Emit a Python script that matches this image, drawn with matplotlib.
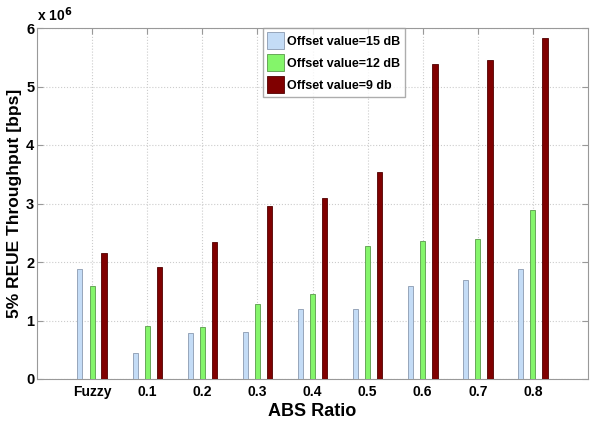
import numpy as np
import matplotlib
matplotlib.use("Agg")
import matplotlib.pyplot as plt

categories = ["Fuzzy", "0.1", "0.2", "0.3", "0.4", "0.5", "0.6", "0.7", "0.8"]
offset_15db = [1.88, 0.45, 0.78, 0.80, 1.20, 1.20, 1.59, 1.70, 1.88]
offset_12db = [1.59, 0.91, 0.89, 1.29, 1.46, 2.28, 2.36, 2.40, 2.89]
offset_9db = [2.15, 1.92, 2.34, 2.95, 3.09, 3.54, 5.39, 5.45, 5.83]
labels = ["Offset value=15 dB", "Offset value=12 dB", "Offset value=9 db"]

plt.rcParams['font.family'] = ['Liberation Sans', 'DejaVu Sans']
plt.rcParams['font.weight'] = 'bold'

fig = plt.figure(figsize=(5.92, 4.21), dpi=100)
ax = fig.add_axes([37 / 592, 1 - 379 / 421, 551 / 592, 351 / 421])

x = np.arange(1, len(categories) + 1)
w = 0.09
ax.bar(x - 0.22, offset_15db, w, color='#c4dcf6', edgecolor='#8a9ab0', linewidth=0.6, label=labels[0], zorder=3)
ax.bar(x, offset_12db, w, color='#84f56a', edgecolor='#5a9a4a', linewidth=0.6, label=labels[1], zorder=3)
ax.bar(x + 0.22, offset_9db, w + 0.01, color='#800000', edgecolor='#500000', linewidth=0.6, label=labels[2], zorder=3)

ax.set_xlim(0, 10)
ax.set_ylim(0, 6)
ax.set_xticks(x)
ax.set_xticklabels(categories, fontsize=10, fontweight='bold')
ax.set_yticks(range(7))
ax.set_yticklabels([str(i) for i in range(7)], fontsize=10.5, fontweight='bold')
ax.tick_params(direction='in', top=True, right=True, length=4, color='#999999', pad=4)
ax.tick_params(axis='y', pad=2)
ax.grid(True, linestyle=':', color='#cccccc', linewidth=0.8, zorder=0)
for s in ax.spines.values():
    s.set_color('#999999')

ax.set_xlabel("ABS Ratio", fontsize=13, fontweight='bold', labelpad=3)
ax.set_ylabel("5% REUE Throughput [bps]", fontsize=12.5, fontweight='bold')
ax.yaxis.set_label_coords(-0.027, 0.5)
ax.text(0.0, 1.01, r"x 10$^{6}$", transform=ax.transAxes, fontsize=10, ha='left', va='bottom')

leg = ax.legend(loc='upper left', bbox_to_anchor=(226 / 551, 1.0), fontsize=9,
                frameon=True, fancybox=False, edgecolor='#999999', borderpad=0.35,
                handlelength=1.3, handleheight=1.7, handletextpad=0.3, labelspacing=0.4,
                borderaxespad=0)
for t in leg.get_texts():
    t.set_fontweight('bold')

fig.savefig("out.png", dpi=100)
